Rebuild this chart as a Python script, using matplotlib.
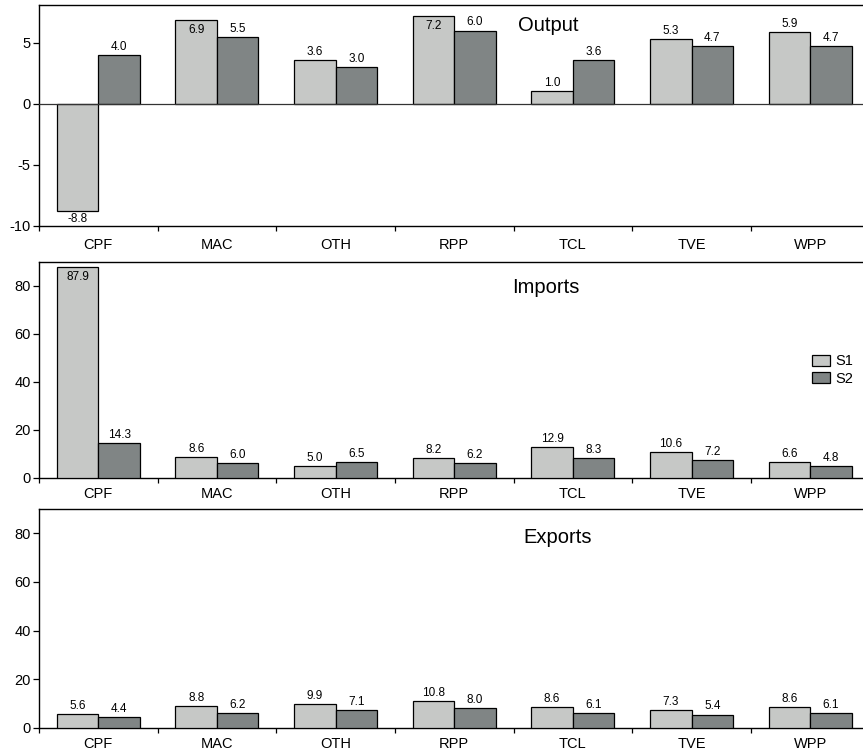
import matplotlib
matplotlib.use("Agg")
import matplotlib.pyplot as plt
import numpy as np

plt.rcParams['font.family'] = ['Liberation Sans', 'DejaVu Sans']

categories = ["CPF", "MAC", "OTH", "RPP", "TCL", "TVE", "WPP"]
series_names = ["S1", "S2"]
output_s1 = [-8.8, 6.9, 3.6, 7.2, 1.0, 5.3, 5.9]
output_s2 = [4.0, 5.5, 3.0, 6.0, 3.6, 4.7, 4.7]
imports_s1 = [87.9, 8.6, 5.0, 8.2, 12.9, 10.6, 6.6]
imports_s2 = [14.3, 6.0, 6.5, 6.2, 8.3, 7.2, 4.8]
exports_s1 = [5.6, 8.8, 9.9, 10.8, 8.6, 7.3, 8.6]
exports_s2 = [4.4, 6.2, 7.1, 8.0, 6.1, 5.4, 6.1]

panels = [
    ("Output", output_s1, output_s2, (-10, 8.1), [-10, -5, 0, 5], (0.613, 0.882), 9),
    ("Imports", imports_s1, imports_s2, (0, 90), [0, 20, 40, 60, 80], (0.610, 0.855), 7),
    ("Exports", exports_s1, exports_s2, (0, 90), [0, 20, 40, 60, 80], (0.625, 0.845), 7),
]

W, H = 863, 756
fig = plt.figure(figsize=(W / 100, H / 100), dpi=100)

boxes = [(5, 225.5), (261.7, 477.7), (509, 727.7)]
left_px, right_px = 39, 869.5

c1 = "#c6c8c6"
c2 = "#808585"
bw = 0.35

for (title, s1, s2, ylim, yticks, tpos, xpad), (tp, bp) in zip(panels, boxes):
    ax = fig.add_axes([left_px / W, 1 - bp / H, (right_px - left_px) / W, (bp - tp) / H])
    x = np.arange(len(categories)) + 0.5
    b1 = ax.bar(x - bw / 2, s1, bw, color=c1, edgecolor="black", linewidth=0.9, label=series_names[0], zorder=3)
    b2 = ax.bar(x + bw / 2, s2, bw, color=c2, edgecolor="black", linewidth=0.9, label=series_names[1], zorder=3)
    ax.set_xlim(0, 7)
    ax.set_ylim(*ylim)
    ymax = ylim[1]
    for bars, vals in ((b1, s1), (b2, s2)):
        for rect, v in zip(bars, vals):
            cx = rect.get_x() + rect.get_width() / 2
            if v < 0:
                ax.annotate(f"{v:.1f}", (cx, v), xytext=(0, -1.5), textcoords="offset points",
                            ha="center", va="top", fontsize=8.5)
            elif v > 0.82 * ymax:
                ax.annotate(f"{v:.1f}", (cx, v), xytext=(0, -3), textcoords="offset points",
                            ha="center", va="top", fontsize=8.5, zorder=5)
            else:
                ax.annotate(f"{v:.1f}", (cx, v), xytext=(0, 1.5), textcoords="offset points",
                            ha="center", va="bottom", fontsize=8.5)
    if ylim[0] < 0:
        ax.axhline(0, color="#333333", linewidth=0.9, zorder=4)
    ax.spines["right"].set_visible(False)
    for s in ("left", "top", "bottom"):
        ax.spines[s].set_linewidth(1.0)
    ax.set_yticks(yticks)
    ax.set_yticklabels([str(t) for t in yticks])
    ax.tick_params(axis="y", direction="out", length=4.5, pad=1.5, labelsize=10.5, width=0.9)
    ax.set_xticks(np.arange(0, 8))
    ax.set_xticklabels([])
    ax.tick_params(axis="x", which="major", direction="out", length=3.6, width=0.9)
    ax.set_xticks(x, minor=True)
    ax.set_xticklabels(categories, minor=True)
    ax.tick_params(axis="x", which="minor", length=0, labelsize=10.5, pad=xpad)
    ax.text(tpos[0], tpos[1], title, transform=ax.transAxes, ha="center", va="baseline", fontsize=14.5)
    if title == "Imports":
        ax.legend(loc="upper left", bbox_to_anchor=(0.931, 0.572), frameon=False,
                  fontsize=10.5, handlelength=1.25, handleheight=0.8,
                  handletextpad=0.35, labelspacing=0.25, borderpad=0, borderaxespad=0)

fig.savefig("out.png", dpi=100)
